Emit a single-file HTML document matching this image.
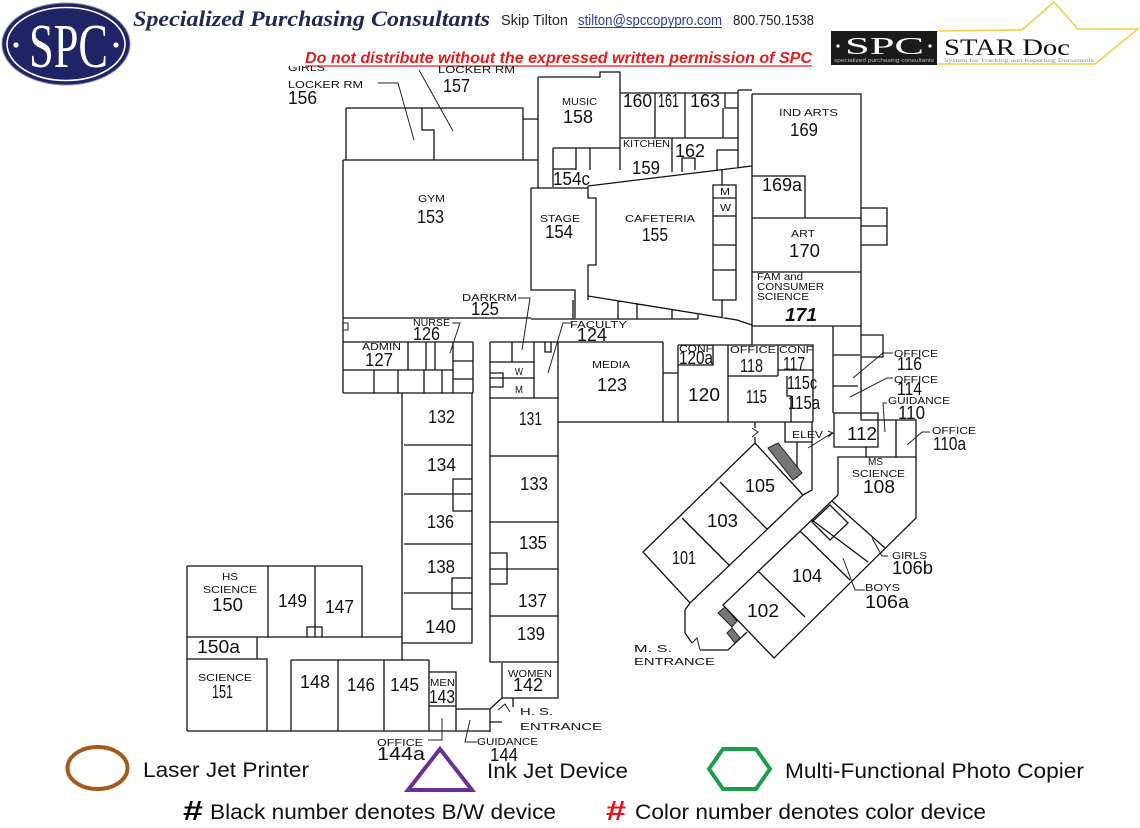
<!DOCTYPE html>
<html>
<head>
<meta charset="utf-8">
<style>
html,body{margin:0;padding:0;background:#fff;}
svg{display:block;}
.f{font-family:"Liberation Sans",Arial,sans-serif;fill:#111;}
.s{font-size:10px;}
.n{font-size:18px;}
.w{fill:none;stroke:#111;stroke-width:1.3;stroke-linejoin:miter;}
.l{fill:none;stroke:#222;stroke-width:1;}
</style>
</head>
<body>
<svg width="1140" height="828" viewBox="0 0 1140 828" xmlns="http://www.w3.org/2000/svg">
<defs>
<clipPath id="cp"><rect x="0" y="66" width="1140" height="762"/></clipPath>
</defs>

<!-- HEADER -->
<ellipse cx="66" cy="44" rx="64" ry="41" fill="#1f2466" stroke="#8a8fa8" stroke-width="1"/>
<ellipse cx="66" cy="44" rx="59" ry="36.5" fill="none" stroke="#fff" stroke-width="1.6"/>
<circle cx="16" cy="45" r="2.6" fill="#fff"/>
<circle cx="116" cy="45" r="2.6" fill="#fff"/>
<text x="29" y="67" font-family="Liberation Serif,serif" font-size="62" fill="#fff" textLength="79" lengthAdjust="spacingAndGlyphs">SPC</text>

<text x="133" y="26" font-family="Liberation Serif,serif" font-size="22" font-weight="bold" font-style="italic" fill="#1e2a55" textLength="357" lengthAdjust="spacingAndGlyphs">Specialized Purchasing Consultants</text>
<text x="501" y="25" font-family="Liberation Sans,sans-serif" font-size="15" fill="#222" textLength="67" lengthAdjust="spacingAndGlyphs">Skip Tilton</text>
<text x="578" y="25" font-family="Liberation Sans,sans-serif" font-size="15" fill="#2b3c9e" textLength="144" lengthAdjust="spacingAndGlyphs">stilton@spccopypro.com</text>
<line x1="578" y1="27.5" x2="722" y2="27.5" stroke="#2b3c9e" stroke-width="1"/>
<text x="733" y="25" font-family="Liberation Sans,sans-serif" font-size="15" fill="#222" textLength="81" lengthAdjust="spacingAndGlyphs">800.750.1538</text>
<text x="305" y="63" font-family="Liberation Sans,sans-serif" font-size="16" font-weight="bold" font-style="italic" fill="#e0201c" textLength="507" lengthAdjust="spacingAndGlyphs">Do not distribute without the expressed written permission of SPC</text>
<line x1="305" y1="66" x2="812" y2="66" stroke="#e0201c" stroke-width="1.3"/>

<!-- STAR Doc logo -->
<path d="M937 31 L1022 30 L1054 2 L1078 29 L1138 29 L1095 64 L937 64" fill="none" stroke="#efd04a" stroke-width="1.6"/>
<rect x="831" y="31" width="106" height="34" fill="#1b1b1b"/>
<circle cx="838" cy="46" r="1.6" fill="#fff"/>
<circle cx="930" cy="46" r="1.6" fill="#fff"/>
<text x="845" y="54" font-family="Liberation Serif,serif" font-size="24" fill="#fff" textLength="79" lengthAdjust="spacingAndGlyphs">SPC</text>
<text x="834" y="62" font-family="Liberation Sans,sans-serif" font-size="5" fill="#bbb" textLength="100" lengthAdjust="spacingAndGlyphs">specialized purchasing consultants</text>
<text x="944" y="55" font-family="Liberation Serif,serif" font-size="23" fill="#111" textLength="126" lengthAdjust="spacingAndGlyphs">STAR Doc</text>
<text x="944" y="62" font-family="Liberation Serif,serif" font-size="5" fill="#888" textLength="150" lengthAdjust="spacingAndGlyphs">System for Tracking and Reporting Documents</text>

<!-- FLOOR PLAN -->
<g clip-path="url(#cp)">
<path class="w" d="
M346 108 H523 V160 M346 108 V160 M422 108 V130 H434 V160 M523 119 H538
M343 160 H538 M343 160 V318 M343 318 H531 M538 77 V188
M531 188 H588 M531 188 V290 H575 V318 M531 319 H698
M538 77 H600 V72 H620 V170 M553 148 H620 M553 148 V187 M553 169 H576 M576 148 V170 M590 148 V170
M620 93 H738 M620 138 H738 M655 93 V138 M685 93 V138 M725 93 V108 H738 M723 108 V138
M672 138 V172 M682 172 V158 H695 V170 M717 170 V150 H738 M738 90 V168 M738 90 H752
M588 186 L752 166 M588 186 V198 H596 V265 H588 V300 M588 296 L737 320 L752 325
M573 300 V319 M618 301 V319 M637 304 V319 M672 310 V319 M698 314 V319
M713 185 H736 V300 H713 Z M713 198 H736 M713 216 H736 M713 245 H736 M713 270 H736
M722 170 V185 M722 300 V318
M752 94 H861 V326 H752 V94 M752 176 H805 V218 M752 218 H861 M752 272 H861
M861 208 H887 V245 H861 M861 226 H887
M343 318 V393 M343 342 H473 M343 370 H453 M408 342 V370 M426 342 V370 M435 342 V370
M374 370 V393 M398 370 V393 M424 370 V393 M442 370 V393 M453 342 V393
M453 361 H473 M453 379 H473 M473 342 V393 M343 393 H473
M402 393 V660 M472 393 V643 H402 M404 445 H472 M404 494 H472 M404 544 H472 M404 593 H472
M472 479 H453 V511 H472 M472 578 H452 V609 H472
M490 342 V662 H558 V342 M490 342 H663 M490 362 H534 M490 378 H534 M490 398 H558
M512 342 V362 M534 342 V398 M490 373 H503 V387 H490
M490 456 H558 M490 522 H558 M490 569 H558 M490 616 H558 M490 553 H507 V584 H490
M545 342 V352 H551 V342
M663 342 V422 M663 373 H678 M678 345 H813 V422 M678 345 V422 M713 345 V365 H678
M728 345 V422 M728 376 H778 M778 345 V376 M778 370 H813 M787 376 V396 H791 V422
M558 422 H813
M785 422 V442 H812 M812 422 V490 L803 495 M797 442 V478
M755 422 V428 M755 437 V443
M755 443 L803 495 L690 603 L643 552 Z M682 518 L730 566 M720 482 L767 529
M838 495 L723 605 L774 658 L916 518 V457 H838 V495
M758 571 L805 617 M800 531 L850 580 M812 520 L868 562 M832 501 L885 548
M812 522 L830 505 L848 523 L830 540 Z
M690 603 L685 610 V633 L692 643 M700 650 H728 L747 632
M833 326 V413 M833 355 H860 M833 386 H858 M861 326 V420 H916 V457
M861 335 H883 V357 H861 M834 413 H878 V447 H834 Z M896 420 V457 M866 447 V457
M752 326 V345
M187 566 H362 V637 M187 566 V731 M268 566 V637 M315 566 V637 M307 637 V627 H322 V637
M187 637 H402 M257 637 V659 M187 659 H267 V731
M291 660 H429 M291 660 V731 M338 660 V731 M384 660 V731 M429 660 V731
M429 672 H456 V731 M429 706 H456 M456 709 H490 V732 M187 731 H490
M490 709 L502 698 M502 663 V698 H558 V662 M513 698 V707 M490 722 H502
"/>
<!-- door symbols -->
<path class="l" d="M752 428 L758 432 L752 437 M343 323 H348 V330 H343 M692 643 L697 638 L700 650 M498 710 L505 704 L510 712"/>
<!-- stairs -->
<polygon points="768,448 778,443 802,473 793,480" fill="#777" stroke="#222" stroke-width="1"/>
<polygon points="718,613 725,607 737,621 732,627" fill="#777" stroke="#222" stroke-width="1"/>
<polygon points="727,633 732,628 740,638 735,643" fill="#777" stroke="#222" stroke-width="1"/>

<!-- leaders -->
<path class="l" d="
M378 83 H398 L414 140 M419 70 L453 131
M518 298 H530 L522 350 M452 323 H460 L450 353 M572 323 H563 L548 373
M893 353 H883 L853 378 M893 378 H887 L850 397 M887 403 H883 L885 432
M930 432 H922 L907 445 M808 448 L832 433 M828 431 L833 433 L828 437
M888 556 H882 L872 538 M865 590 H855 L843 558
M428 740 H442 V718 M477 742 H465 L470 720
"/>

<!-- labels -->
<g class="f">
<text class="s" x="288" y="71" textLength="37" lengthAdjust="spacingAndGlyphs">GIRLS</text>
<text class="s" x="288" y="88" textLength="75" lengthAdjust="spacingAndGlyphs">LOCKER RM</text>
<text class="n" x="288" y="104" textLength="29" lengthAdjust="spacingAndGlyphs">156</text>
<text class="s" x="438" y="73" textLength="77" lengthAdjust="spacingAndGlyphs">LOCKER RM</text>
<text class="n" x="443" y="92" textLength="27" lengthAdjust="spacingAndGlyphs">157</text>
<text class="s" x="418" y="202" textLength="27" lengthAdjust="spacingAndGlyphs">GYM</text>
<text class="n" x="417" y="223" textLength="27" lengthAdjust="spacingAndGlyphs">153</text>
<text class="s" x="540" y="222" textLength="40" lengthAdjust="spacingAndGlyphs">STAGE</text>
<text class="n" x="545" y="238" textLength="28" lengthAdjust="spacingAndGlyphs">154</text>
<text class="s" x="462" y="301" textLength="55" lengthAdjust="spacingAndGlyphs">DARKRM</text>
<text class="n" x="471" y="315" textLength="28" lengthAdjust="spacingAndGlyphs">125</text>
<text class="s" x="413" y="326" textLength="37" lengthAdjust="spacingAndGlyphs">NURSE</text>
<text class="n" x="413" y="340" textLength="27" lengthAdjust="spacingAndGlyphs">126</text>
<text class="s" x="362" y="350" textLength="39" lengthAdjust="spacingAndGlyphs">ADMIN</text>
<text class="n" x="365" y="366" textLength="28" lengthAdjust="spacingAndGlyphs">127</text>
<text class="s" x="570" y="328" textLength="57" lengthAdjust="spacingAndGlyphs">FACULTY</text>
<text class="n" x="577" y="341" textLength="30" lengthAdjust="spacingAndGlyphs">124</text>
<text class="s" x="515" y="375" font-size="9" textLength="8" lengthAdjust="spacingAndGlyphs">W</text>
<text class="s" x="515" y="393" font-size="9" textLength="8" lengthAdjust="spacingAndGlyphs">M</text>
<text class="s" x="592" y="368" textLength="38" lengthAdjust="spacingAndGlyphs">MEDIA</text>
<text class="n" x="597" y="391" textLength="30" lengthAdjust="spacingAndGlyphs">123</text>
<text class="s" x="562" y="105" textLength="35" lengthAdjust="spacingAndGlyphs">MUSIC</text>
<text class="n" x="563" y="123" textLength="30" lengthAdjust="spacingAndGlyphs">158</text>
<text class="n" x="623" y="107" textLength="29" lengthAdjust="spacingAndGlyphs">160</text>
<text class="n" x="658" y="107" textLength="21" lengthAdjust="spacingAndGlyphs">161</text>
<text class="n" x="690" y="107" textLength="30" lengthAdjust="spacingAndGlyphs">163</text>
<text class="s" x="623" y="147" font-size="8.5" textLength="47" lengthAdjust="spacingAndGlyphs">KITCHEN</text>
<text class="n" x="632" y="174" textLength="28" lengthAdjust="spacingAndGlyphs">159</text>
<text class="n" x="675" y="157" textLength="30" lengthAdjust="spacingAndGlyphs">162</text>
<text class="n" x="553" y="185" textLength="37" lengthAdjust="spacingAndGlyphs">154c</text>
<text class="s" x="720" y="195" font-size="9" textLength="10" lengthAdjust="spacingAndGlyphs">M</text>
<text class="s" x="720" y="211" font-size="9" textLength="11" lengthAdjust="spacingAndGlyphs">W</text>
<text class="s" x="625" y="222" textLength="70" lengthAdjust="spacingAndGlyphs">CAFETERIA</text>
<text class="n" x="642" y="241" textLength="26" lengthAdjust="spacingAndGlyphs">155</text>
<text class="s" x="779" y="116" textLength="59" lengthAdjust="spacingAndGlyphs">IND ARTS</text>
<text class="n" x="790" y="136" textLength="28" lengthAdjust="spacingAndGlyphs">169</text>
<text class="n" x="762" y="191" textLength="40" lengthAdjust="spacingAndGlyphs">169a</text>
<text class="s" x="791" y="237" textLength="24" lengthAdjust="spacingAndGlyphs">ART</text>
<text class="n" x="789" y="257" textLength="31" lengthAdjust="spacingAndGlyphs">170</text>
<text class="s" x="757" y="280" textLength="46" lengthAdjust="spacingAndGlyphs">FAM and</text>
<text class="s" x="757" y="290" textLength="67" lengthAdjust="spacingAndGlyphs">CONSUMER</text>
<text class="s" x="757" y="300" textLength="52" lengthAdjust="spacingAndGlyphs">SCIENCE</text>
<text class="n" x="785" y="321" font-weight="bold" font-style="italic" textLength="32" lengthAdjust="spacingAndGlyphs">171</text>
<text class="s" x="679" y="352" textLength="34" lengthAdjust="spacingAndGlyphs">CONF</text>
<text class="n" x="679" y="364" font-size="15" textLength="34" lengthAdjust="spacingAndGlyphs">120a</text>
<text class="s" x="730" y="353" textLength="46" lengthAdjust="spacingAndGlyphs">OFFICE</text>
<text class="n" x="740" y="372" textLength="23" lengthAdjust="spacingAndGlyphs">118</text>
<text class="s" x="779" y="353" textLength="34" lengthAdjust="spacingAndGlyphs">CONF</text>
<text class="n" x="783" y="370" textLength="22" lengthAdjust="spacingAndGlyphs">117</text>
<text class="n" x="688" y="401" textLength="32" lengthAdjust="spacingAndGlyphs">120</text>
<text class="n" x="746" y="403" textLength="21" lengthAdjust="spacingAndGlyphs">115</text>
<text class="n" x="787" y="389" textLength="30" lengthAdjust="spacingAndGlyphs">115c</text>
<text class="n" x="788" y="409" textLength="32" lengthAdjust="spacingAndGlyphs">115a</text>
<text class="s" x="792" y="438" textLength="31" lengthAdjust="spacingAndGlyphs">ELEV</text>
<text class="n" x="847" y="440" textLength="30" lengthAdjust="spacingAndGlyphs">112</text>
<text class="s" x="894" y="357" textLength="44" lengthAdjust="spacingAndGlyphs">OFFICE</text>
<text class="n" x="897" y="370" textLength="25" lengthAdjust="spacingAndGlyphs">116</text>
<text class="s" x="894" y="383" textLength="44" lengthAdjust="spacingAndGlyphs">OFFICE</text>
<text class="n" x="897" y="395" textLength="25" lengthAdjust="spacingAndGlyphs">114</text>
<text class="s" x="888" y="404" textLength="62" lengthAdjust="spacingAndGlyphs">GUIDANCE</text>
<text class="n" x="898" y="419" textLength="27" lengthAdjust="spacingAndGlyphs">110</text>
<text class="s" x="932" y="434" textLength="44" lengthAdjust="spacingAndGlyphs">OFFICE</text>
<text class="n" x="933" y="450" textLength="33" lengthAdjust="spacingAndGlyphs">110a</text>
<text class="s" x="868" y="465" font-size="9" textLength="15" lengthAdjust="spacingAndGlyphs">MS</text>
<text class="s" x="852" y="477" textLength="53" lengthAdjust="spacingAndGlyphs">SCIENCE</text>
<text class="n" x="863" y="493" textLength="32" lengthAdjust="spacingAndGlyphs">108</text>
<text class="n" x="745" y="492" textLength="30" lengthAdjust="spacingAndGlyphs">105</text>
<text class="n" x="707" y="527" textLength="31" lengthAdjust="spacingAndGlyphs">103</text>
<text class="n" x="672" y="564" textLength="24" lengthAdjust="spacingAndGlyphs">101</text>
<text class="n" x="792" y="582" textLength="30" lengthAdjust="spacingAndGlyphs">104</text>
<text class="n" x="747" y="617" textLength="32" lengthAdjust="spacingAndGlyphs">102</text>
<text class="s" x="892" y="559" textLength="35" lengthAdjust="spacingAndGlyphs">GIRLS</text>
<text class="n" x="892" y="574" textLength="41" lengthAdjust="spacingAndGlyphs">106b</text>
<text class="s" x="865" y="591" textLength="35" lengthAdjust="spacingAndGlyphs">BOYS</text>
<text class="n" x="865" y="608" textLength="44" lengthAdjust="spacingAndGlyphs">106a</text>
<text class="s" x="634" y="652" font-size="11" textLength="38" lengthAdjust="spacingAndGlyphs">M. S.</text>
<text class="s" x="634" y="665" font-size="11" textLength="81" lengthAdjust="spacingAndGlyphs">ENTRANCE</text>
<text class="n" x="428" y="423" textLength="27" lengthAdjust="spacingAndGlyphs">132</text>
<text class="n" x="519" y="425" textLength="23" lengthAdjust="spacingAndGlyphs">131</text>
<text class="n" x="427" y="471" textLength="29" lengthAdjust="spacingAndGlyphs">134</text>
<text class="n" x="520" y="490" textLength="28" lengthAdjust="spacingAndGlyphs">133</text>
<text class="n" x="427" y="528" textLength="27" lengthAdjust="spacingAndGlyphs">136</text>
<text class="n" x="519" y="549" textLength="28" lengthAdjust="spacingAndGlyphs">135</text>
<text class="n" x="427" y="573" textLength="28" lengthAdjust="spacingAndGlyphs">138</text>
<text class="n" x="518" y="607" textLength="29" lengthAdjust="spacingAndGlyphs">137</text>
<text class="n" x="425" y="633" textLength="31" lengthAdjust="spacingAndGlyphs">140</text>
<text class="n" x="517" y="640" textLength="28" lengthAdjust="spacingAndGlyphs">139</text>
<text class="s" x="222" y="580" textLength="16" lengthAdjust="spacingAndGlyphs">HS</text>
<text class="s" x="203" y="593" textLength="54" lengthAdjust="spacingAndGlyphs">SCIENCE</text>
<text class="n" x="212" y="611" textLength="31" lengthAdjust="spacingAndGlyphs">150</text>
<text class="n" x="278" y="607" textLength="29" lengthAdjust="spacingAndGlyphs">149</text>
<text class="n" x="325" y="613" textLength="29" lengthAdjust="spacingAndGlyphs">147</text>
<text class="n" x="197" y="653" textLength="43" lengthAdjust="spacingAndGlyphs">150a</text>
<text class="s" x="198" y="681" textLength="54" lengthAdjust="spacingAndGlyphs">SCIENCE</text>
<text class="n" x="212" y="698" textLength="21" lengthAdjust="spacingAndGlyphs">151</text>
<text class="n" x="300" y="688" textLength="30" lengthAdjust="spacingAndGlyphs">148</text>
<text class="n" x="347" y="691" textLength="28" lengthAdjust="spacingAndGlyphs">146</text>
<text class="n" x="390" y="691" textLength="29" lengthAdjust="spacingAndGlyphs">145</text>
<text class="s" x="430" y="686" font-size="9" textLength="25" lengthAdjust="spacingAndGlyphs">MEN</text>
<text class="n" x="429" y="703" textLength="26" lengthAdjust="spacingAndGlyphs">143</text>
<text class="s" x="508" y="677" textLength="44" lengthAdjust="spacingAndGlyphs">WOMEN</text>
<text class="n" x="513" y="691" textLength="30" lengthAdjust="spacingAndGlyphs">142</text>
<text class="s" x="520" y="715" font-size="11" textLength="33" lengthAdjust="spacingAndGlyphs">H. S.</text>
<text class="s" x="520" y="730" font-size="11" textLength="82" lengthAdjust="spacingAndGlyphs">ENTRANCE</text>
<text class="s" x="377" y="746" textLength="46" lengthAdjust="spacingAndGlyphs">OFFICE</text>
<text class="n" x="377" y="760" textLength="48" lengthAdjust="spacingAndGlyphs">144a</text>
<text class="s" x="477" y="745" textLength="61" lengthAdjust="spacingAndGlyphs">GUIDANCE</text>
<text class="n" x="490" y="761" textLength="28" lengthAdjust="spacingAndGlyphs">144</text>
</g>
</g>

<!-- LEGEND -->
<ellipse cx="97.5" cy="768" rx="30" ry="21" fill="none" stroke="#a35a1c" stroke-width="4"/>
<text x="143" y="777" font-family="Liberation Sans,sans-serif" font-size="21" fill="#111" textLength="166" lengthAdjust="spacingAndGlyphs">Laser Jet Printer</text>
<polygon points="440,749 408,790 472,790" fill="none" stroke="#6b2f9b" stroke-width="4" stroke-linejoin="miter"/>
<text x="487" y="778" font-family="Liberation Sans,sans-serif" font-size="21" fill="#111" textLength="141" lengthAdjust="spacingAndGlyphs">Ink Jet Device</text>
<polygon points="709,769 723,749 756,749 770,769 756,789 723,789" fill="none" stroke="#1d9e4c" stroke-width="4"/>
<text x="785" y="778" font-family="Liberation Sans,sans-serif" font-size="21" fill="#111" textLength="299" lengthAdjust="spacingAndGlyphs">Multi-Functional Photo Copier</text>
<text x="183" y="820" font-family="Liberation Sans,sans-serif" font-size="28" font-weight="bold" fill="#000" textLength="20" lengthAdjust="spacingAndGlyphs">#</text>
<text x="210" y="819" font-family="Liberation Sans,sans-serif" font-size="21" fill="#111" textLength="346" lengthAdjust="spacingAndGlyphs">Black number denotes B/W device</text>
<text x="606" y="820" font-family="Liberation Sans,sans-serif" font-size="28" font-weight="bold" fill="#ee1111" textLength="20" lengthAdjust="spacingAndGlyphs">#</text>
<text x="635" y="819" font-family="Liberation Sans,sans-serif" font-size="21" fill="#111" textLength="351" lengthAdjust="spacingAndGlyphs">Color number denotes color device</text>
</svg>
</body>
</html>
